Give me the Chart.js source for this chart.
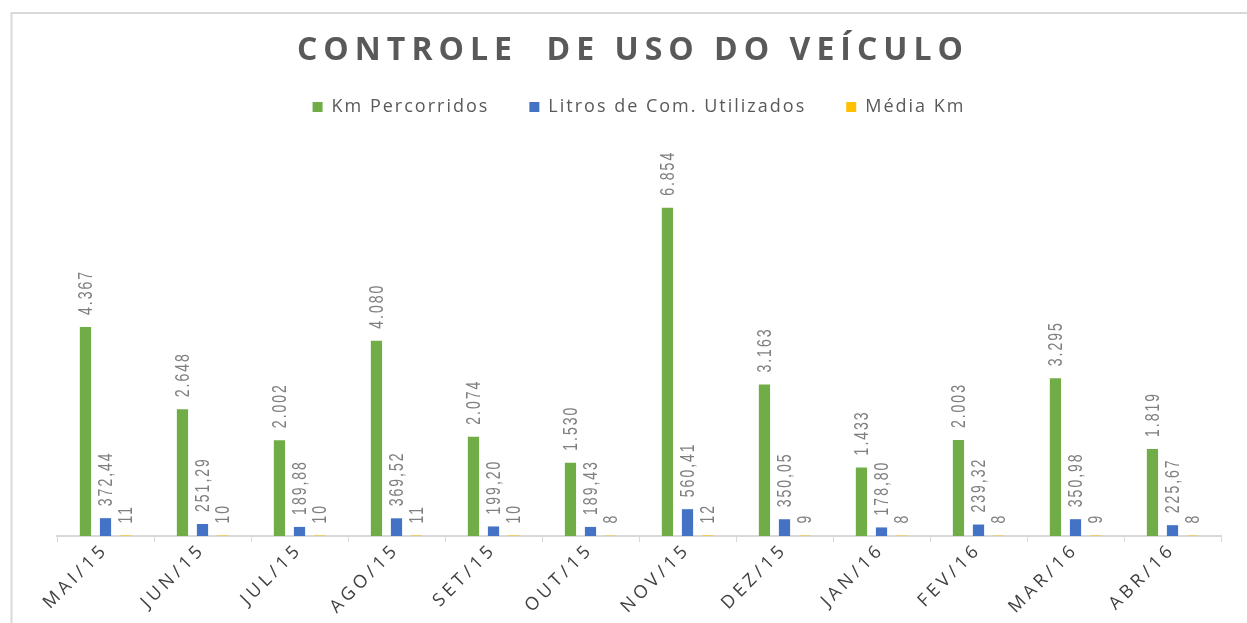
<!DOCTYPE html>
<html>
<head>
<meta charset="utf-8">
<script src="https://cdn.jsdelivr.net/npm/chart.js@4.4.1/dist/chart.umd.min.js"></script>
<style>
    html, body { margin: 0; padding: 0; background: #ffffff; }
    #wrap { width: 1247px; height: 623px; }
</style>
</head>
<body>
<div id="wrap"><canvas id="chartUsoVeiculo" width="1247" height="623"></canvas></div>
<script>
// dados do grafico
var meses = ['MAI/15', 'JUN/15', 'JUL/15', 'AGO/15', 'SET/15', 'OUT/15', 'NOV/15', 'DEZ/15', 'JAN/16', 'FEV/16', 'MAR/16', 'ABR/16'];
var kmPercorridos = [4367, 2648, 2002, 4080, 2074, 1530, 6854, 3163, 1433, 2003, 3295, 1819];
var litrosUtilizados = [372.44, 251.29, 189.88, 369.52, 199.20, 189.43, 560.41, 350.05, 178.80, 239.32, 350.98, 225.67];
var mediaKm = [11, 10, 10, 11, 10, 8, 12, 9, 8, 8, 9, 8];
var tituloGrafico = 'CONTROLE  DE USO DO VEÍCULO';

function fmtKm(v) {
    return String(v).replace(/\B(?=(\d{3})+(?!\d))/g, '.');
}
function fmtLitros(v) {
    return v.toFixed(2).replace('.', ',');
}
function fmtMedia(v) {
    return String(v);
}

// fundo, borda e titulo
const fundoTitulo = {
    id: 'fundoTitulo',
    beforeDraw: function (chart) {
        const ctx = chart.ctx;
        ctx.save();
        ctx.fillStyle = '#ffffff';
        ctx.fillRect(0, 0, chart.width, chart.height);
        ctx.strokeStyle = '#d9d9d9';
        ctx.lineWidth = 2;
        ctx.beginPath();
        ctx.moveTo(11.5, chart.height);
        ctx.lineTo(11.5, 13);
        ctx.lineTo(chart.width, 13);
        ctx.stroke();

        ctx.letterSpacing = '6px';
        ctx.font = 'bold 32px "Open Sans"';
        ctx.fillStyle = '#595959';
        ctx.textAlign = 'center';
        ctx.textBaseline = 'middle';
        ctx.fillText(tituloGrafico, 633, 51);
        ctx.restore();
    }
};

// legenda: espacamento entre letras e altura fixa
const legenMargin = {
    id: 'legenMargin',
    beforeInit: function (chart) {
        const fitValue = chart.legend.fit;
        chart.legend.fit = function fit() {
            chart.ctx.letterSpacing = '2px';
            fitValue.bind(chart.legend)();
            chart.ctx.letterSpacing = '0px';
            this.height = 95;
        };
        const drawValue = chart.legend.draw;
        chart.legend.draw = function draw() {
            chart.ctx.letterSpacing = '2px';
            drawValue.bind(chart.legend)();
            chart.ctx.letterSpacing = '0px';
        };
    },
    beforeLayout: function (chart) {
        const sc = chart.scales.x;
        if (sc && !sc._spaced) {
            const drawValue = sc.draw;
            sc.draw = function (area) {
                this.ctx.letterSpacing = '4px';
                drawValue.call(this, area);
                this.ctx.letterSpacing = '0px';
            };
            sc._spaced = true;
        }
    }
};

// rotulos de dados verticais
const rotulosDados = {
    id: 'rotulosDados',
    afterDatasetsDraw: function (chart) {
        const ctx = chart.ctx;
        const formatos = [fmtKm, fmtLitros, fmtMedia];
        chart.data.datasets.forEach((dataset, di) => {
            const meta = chart.getDatasetMeta(di);
            meta.data.forEach((bar, index) => {
                const texto = formatos[di](dataset.data[index]);
                ctx.save();
                ctx.letterSpacing = '2px';
                ctx.font = '14px "Liberation Sans"';
                ctx.fillStyle = '#7f7f7f';
                ctx.textAlign = 'left';
                ctx.textBaseline = 'middle';
                ctx.translate(bar.x + 1, bar.y - 12);
                ctx.scale(1.4, 1);
                ctx.rotate(-Math.PI / 2);
                ctx.fillText(texto, 0, 0);
                ctx.restore();
            });
        });
    }
};

var ctxUso = document.getElementById('chartUsoVeiculo').getContext('2d');

var graficoUso = new Chart(ctxUso, {
    type: 'bar',
    data: {
        labels: meses,
        datasets: [
            {
                label: 'Km Percorridos',
                data: kmPercorridos,
                backgroundColor: '#70ad47',
                borderWidth: 0
            },
            {
                label: 'Litros de Com. Utilizados',
                data: litrosUtilizados,
                backgroundColor: '#4472c4',
                borderWidth: 0
            },
            {
                label: 'Média Km',
                data: mediaKm,
                backgroundColor: '#ffc000',
                borderWidth: 0
            }
        ]
    },
    plugins: [fundoTitulo, legenMargin, rotulosDados],
    options: {
        responsive: false,
        animation: false,
        devicePixelRatio: 1,
        categoryPercentage: 0.62,
        barPercentage: 0.56,
        layout: {
            padding: { top: 58, left: 57, right: 26, bottom: 0 }
        },
        plugins: {
            title: { display: false },
            tooltip: { enabled: false },
            legend: {
                display: true,
                position: 'top',
                align: 'center',
                labels: {
                    boxWidth: 10,
                    boxHeight: 10,
                    padding: 40,
                    color: '#595959',
                    font: { family: '"Open Sans"', size: 18 }
                }
            }
        },
        scales: {
            x: {
                offset: true,
                grid: {
                    display: true,
                    drawOnChartArea: false,
                    drawTicks: true,
                    tickLength: 6,
                    color: '#d9d9d9',
                    offset: true
                },
                border: { display: true, color: '#d9d9d9', width: 2 },
                ticks: {
                    minRotation: 45,
                    maxRotation: 45,
                    autoSkip: false,
                    padding: -3,
                    color: '#404040',
                    font: { family: '"Open Sans"', size: 18 }
                },
                afterFit: function (scale) {
                    scale.height = 87;
                }
            },
            y: {
                display: false,
                min: 0,
                max: 8000
            }
        }
    }
});
</script>
</body>
</html>
